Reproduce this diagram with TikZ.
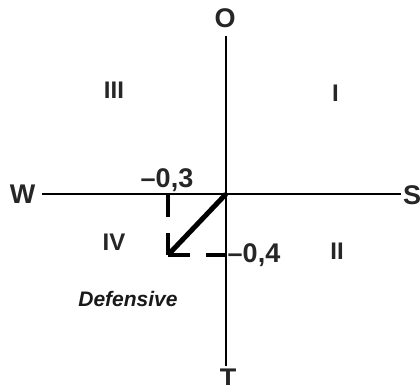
\documentclass[tikz,border=0pt]{standalone}
\usepackage{fontspec}
\setmainfont{Liberation Sans}
\begin{document}
\begin{tikzpicture}[x=1pt,y=-1pt,
  lbl/.style={font=\bfseries\fontsize{27}{27}\selectfont, inner sep=0pt, text=black!85},
  quad/.style={font=\bfseries\fontsize{24}{24}\selectfont, inner sep=0pt, text=black!85},
  axis/.style={line width=2pt},
  dashline/.style={line width=4pt, dash pattern=on 22pt off 16pt},
  vec/.style={line width=5pt}]
\useasboundingbox (0,0) rectangle (420,385);
\coordinate (o) at (226,194);
\coordinate (wE) at (42,194);
\coordinate (sE) at (401,194);
\coordinate (oE) at (226,36);
\coordinate (tE) at (226,366);
\coordinate (p) at (168,255);
\coordinate (px) at (168,194);
\coordinate (py) at (226,255);
\node[lbl, anchor=base] (W) at (22.5,203) {W};
\node[lbl, anchor=base] (S) at (412,204) {S};
\node[lbl, anchor=base] (O) at (225,28) {O};
\node[lbl, anchor=base] (T) at (228,387) {T};
\draw[axis] (wE) -- (sE);
\draw[axis] (oE) -- (tE);
\draw[dashline] (p) -- (px);
\draw[dashline] (p) -- (py);
\draw[vec] (o) -- (p);
\node[lbl, anchor=base] (n3) at (167,187) {–0,3};
\node[lbl, anchor=base] (n4) at (254,262) {–0,4};
\node[quad, anchor=base] (q1) at (335.5,102) {I};
\node[quad, anchor=base] (q2) at (337,259) {II};
\node[quad, anchor=base] (q3) at (114,99) {III};
\node[quad, anchor=base] (q4) at (114,250) {IV};
\node[font=\bfseries\itshape\fontsize{21}{21}\selectfont, inner sep=0pt, anchor=base, text=black!90] (def) at (128,306) {Defensive};
\end{tikzpicture}
\end{document}
